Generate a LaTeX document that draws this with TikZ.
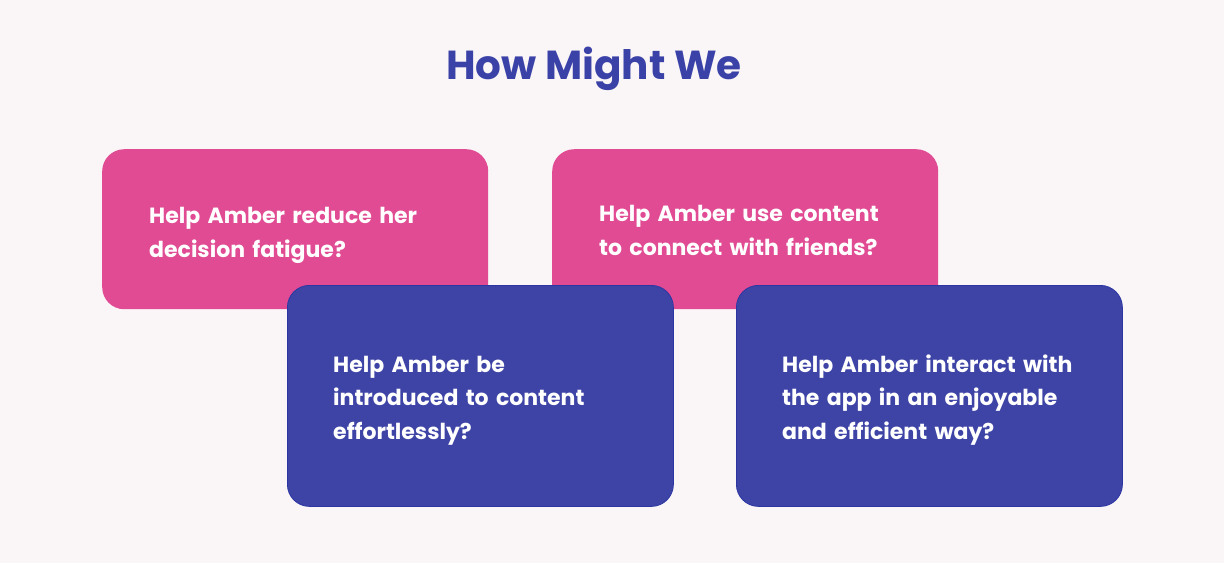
\documentclass[tikz,border=0pt]{standalone}
\usepackage{fontspec}
\setmainfont{Poppins}
\newfontfamily\cardfont{Poppins}[UprightFont=*-Bold]
\definecolor{bg}{HTML}{FAF5F7}
\definecolor{pinkbox}{HTML}{E04B93}
\definecolor{bluebox}{HTML}{3E44A6}
\definecolor{blueedge}{HTML}{2B36A3}
\definecolor{titleblue}{HTML}{3A42A8}
\begin{document}
\begin{tikzpicture}[x=1pt,y=-1pt,
  card/.style={rounded corners=22pt, minimum width=386pt, inner sep=0pt, anchor=north west},
  pinkcard/.style={card, fill=pinkbox, minimum height=160pt},
  bluecard/.style={card, fill=bluebox, draw=blueedge, line width=0.8pt, minimum height=221pt},
  cardtext/.style={text=white, align=left, text width=330pt, inner sep=0pt, anchor=base west,
    font=\cardfont\fontsize{22}{33.4}\selectfont},
  titletext/.style={text=titleblue, anchor=base, font=\fontsize{40.5}{46}\selectfont\bfseries}
]
\fill[bg] (0,0) rectangle (1224,563);
\useasboundingbox (0,0) rectangle (1224,563);
\node[titletext] (title) at (594,79) {How Might We};
\node[pinkcard] (p1) at (102,149) {};
\node[pinkcard] (p2) at (552,149) {};
\node[cardtext] (t1) at (149,223.8) {Help Amber reduce her\\decision fatigue?};
\node[cardtext] (t2) at (599,221.8) {Help Amber use content\\to connect with friends?};
\node[bluecard] (b1) at (287,285) {};
\node[bluecard] (b2) at (736,285) {};
\node[cardtext] (t3) at (333,372.3) {Help Amber be\\introduced to content\\effortlessly?};
\node[cardtext] (t4) at (782,372.3) {Help Amber interact with\\the app in an enjoyable\\and efficient way?};
\end{tikzpicture}
\end{document}
